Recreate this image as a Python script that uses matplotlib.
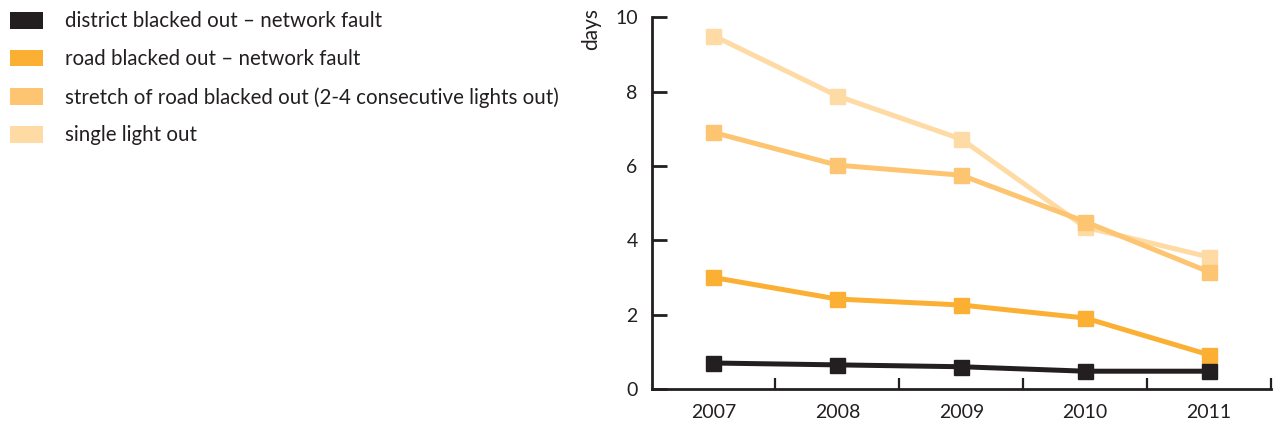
import matplotlib.pyplot as plt
from matplotlib.patches import Patch

plt.rcParams['font.family'] = ['Lato', 'DejaVu Sans']

years = ['2007', '2008', '2009', '2010', '2011']
district = [0.7, 0.65, 0.6, 0.48, 0.48]
road = [3.0, 2.42, 2.26, 1.91, 0.92]
stretch = [6.9, 6.02, 5.75, 4.5, 3.15]
single = [9.5, 7.88, 6.72, 4.35, 3.55]

labels = ['district blacked out – network fault',
          'road blacked out – network fault',
          'stretch of road blacked out (2-4 consecutive lights out)',
          'single light out']
colors = ['#231f20', '#fbb034', '#fdc571', '#fedba5']
series = [district, road, stretch, single]

ink = '#231f20'

fig = plt.figure(figsize=(12.8, 4.28), dpi=100)
ax = fig.add_axes([0.509, 0.091, 0.484, 0.869])

x = list(range(len(years)))
# lightest series first so darker ones sit on top
for vals, c in reversed(list(zip(series, colors))):
    ax.plot(x, vals, color=c, lw=3.6, marker='s', ms=10.8,
            solid_joinstyle='miter', zorder=3)

ax.set_xlim(-0.5, 4.5)
ax.set_ylim(0, 10)
ax.set_yticks([0, 2, 4, 6, 8, 10])
ax.set_xticks(x)
ax.set_xticklabels(years)
ax.set_xticks([i + 0.5 for i in x], minor=True)

for side in ('top', 'right'):
    ax.spines[side].set_visible(False)
for side in ('left', 'bottom'):
    ax.spines[side].set_linewidth(2.0)
    ax.spines[side].set_color(ink)

ax.tick_params(axis='y', direction='in', length=11, width=2.0,
               color=ink, labelcolor=ink, labelsize=14, pad=10)
ax.tick_params(axis='x', which='major', length=0, labelcolor=ink,
               labelsize=14, pad=11)
ax.tick_params(axis='x', which='minor', direction='in', length=8,
               width=1.6, color=ink)

ax.text(-0.097, 1.024, 'days', transform=ax.transAxes, rotation=90,
        ha='center', va='top', fontsize=15, color=ink)

handles = [Patch(facecolor=c, edgecolor='none') for c in colors]
fig.legend(handles, labels, loc='upper left', bbox_to_anchor=(0.0016, 0.993),
           frameon=False, fontsize=14.8, handlelength=1.6, handleheight=0.88,
           handletextpad=1.05, labelspacing=0.87, labelcolor=ink,
           borderaxespad=0.0)

fig.savefig('out.png', dpi=100)
